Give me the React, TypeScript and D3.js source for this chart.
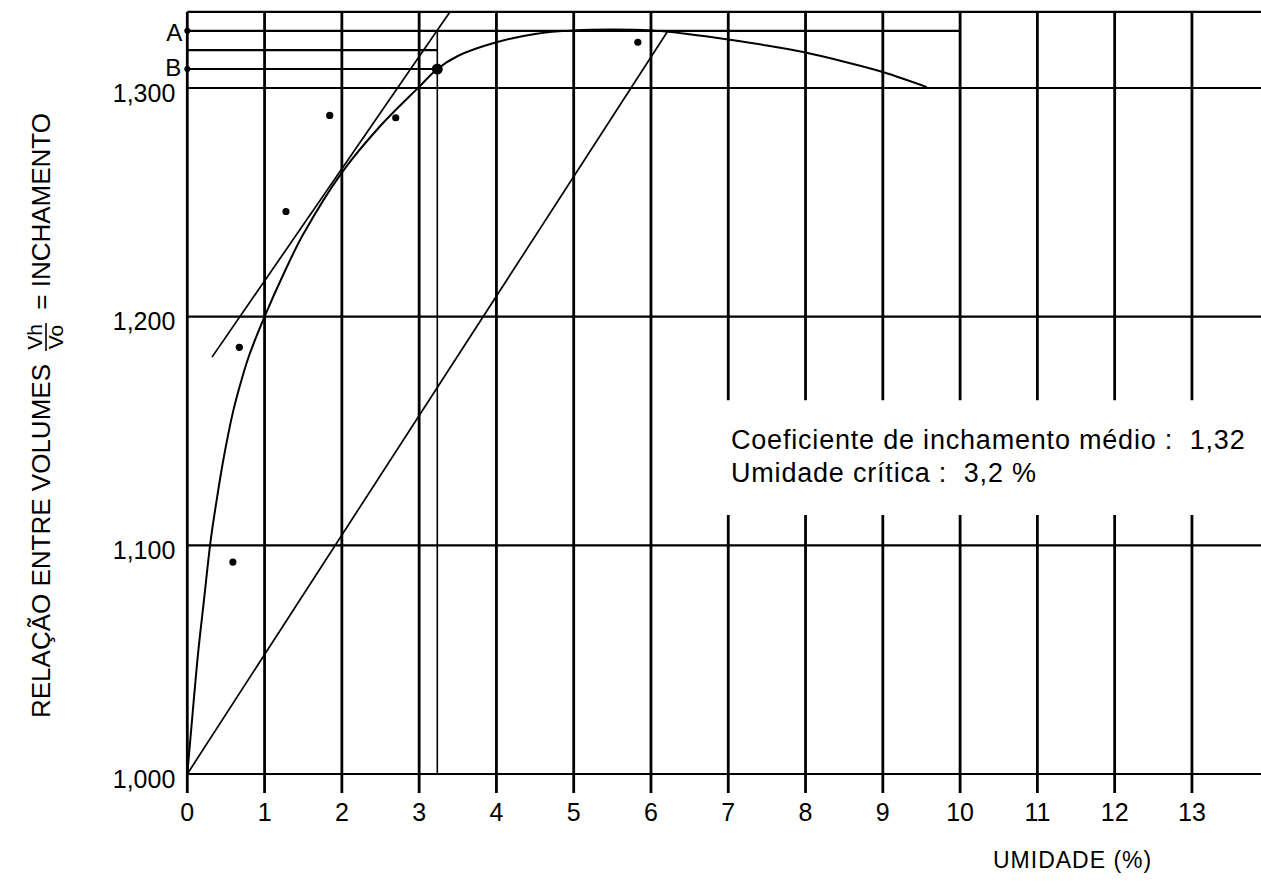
import React from "react";
import * as d3 from "d3";

// ---------- data ----------
const xTicks = [0, 1, 2, 3, 4, 5, 6, 7, 8, 9, 10, 11, 12, 13];
const yTicks = [1.0, 1.1, 1.2, 1.3];
const yTickLabels = ["1,000", "1,100", "1,200", "1,300"];

const pointsX = [0.59, 0.673, 1.277, 1.843, 2.697, 5.83];
const pointsY = [1.0927, 1.1866, 1.246, 1.288, 1.287, 1.32];

const curveX = [0, 0.07, 0.14, 0.216, 0.303, 0.38, 0.466, 0.587, 0.682, 0.8, 1.0, 1.25, 1.5, 2.0, 2.5, 3.0, 3.235, 3.5, 4.0, 4.5, 5.0, 5.5, 6.0, 6.5, 7.0, 7.5, 8.0, 8.5, 9.0, 9.57];
const curveY = [1.0, 1.027, 1.053, 1.0761, 1.1023, 1.1198, 1.1373, 1.1577, 1.17, 1.183, 1.2, 1.219, 1.236, 1.263, 1.2835, 1.3005, 1.3083, 1.314, 1.32, 1.3236, 1.3252, 1.3256, 1.3252, 1.3235, 1.3212, 1.3186, 1.3155, 1.3115, 1.307, 1.3004];

const levelA = 1.325;
const levelMid = 1.3166;
const levelB = 1.3083;
const umidadeCritica = 3.235;
const lineAEnd = 10;

const chordX = [0, 6.22];
const chordY = [1.0, 1.325];
const tangentX = [0.32, 3.4];
const tangentY = [1.1823, 1.3333];

const xMax = 13.9;
const yMin = 1.0;
const yMax = 1.3333;
const gridGapFrom = 7; // vertical lines from this value have a gap around the note
const gridGap = [1.1133, 1.1635];

const noteLines = ["Coeficiente de inchamento médio :  1,32", "Umidade crítica :  3,2 %"];

// ---------- component ----------
const W = 1261;
const H = 885;
const FONT = "'Liberation Sans', Arial, Helvetica, sans-serif";

export default function App() {
  const x = d3.scaleLinear().domain([0, xMax]).range([187.3, 187.3 + xMax * 77.28]);
  const y = d3.scaleLinear().domain([1.0, 1.3]).range([774, 88]);

  const line = d3
    .line<number>()
    .x((_, i) => x(curveX[i]))
    .y((d) => y(d))
    .curve(d3.curveCatmullRom.alpha(0.5));
  const curvePath = line(curveY) || "";

  const tickLen = 19;
  const gridW = 2.8;
  const hW = 2.2;

  return (
    <svg
      width={W}
      height={H}
      style={{ position: "absolute", left: 0, top: 0, background: "#fff" }}
      fontFamily={FONT}
    >
      <rect x={0} y={0} width={W} height={H} fill="#fff" />

      {/* horizontal grid lines */}
      {[...yTicks, yMax].map((v, i) => (
        <line key={"h" + i} x1={x(0)} x2={x(xMax)} y1={y(v)} y2={y(v)} stroke="#000" strokeWidth={hW} />
      ))}

      {/* vertical grid lines */}
      {xTicks.map((t) =>
        t >= gridGapFrom ? (
          <g key={"v" + t}>
            <line x1={x(t)} x2={x(t)} y1={y(yMax)} y2={y(gridGap[1])} stroke="#000" strokeWidth={gridW} />
            <line x1={x(t)} x2={x(t)} y1={y(gridGap[0])} y2={y(yMin) + tickLen} stroke="#000" strokeWidth={gridW} />
          </g>
        ) : (
          <line key={"v" + t} x1={x(t)} x2={x(t)} y1={y(yMax)} y2={y(yMin) + tickLen} stroke="#000" strokeWidth={gridW} />
        )
      )}

      {/* A, mid, B construction lines */}
      <line x1={x(0)} x2={x(lineAEnd)} y1={y(levelA)} y2={y(levelA)} stroke="#000" strokeWidth={hW} />
      <line x1={x(0)} x2={x(umidadeCritica)} y1={y(levelMid)} y2={y(levelMid)} stroke="#000" strokeWidth={hW} />
      <line x1={x(0)} x2={x(umidadeCritica)} y1={y(levelB)} y2={y(levelB)} stroke="#000" strokeWidth={hW} />
      <line x1={x(umidadeCritica)} x2={x(umidadeCritica)} y1={y(levelA)} y2={y(yMin)} stroke="#000" strokeWidth={1.6} />

      {/* chord and tangent */}
      <line x1={x(chordX[0])} y1={y(chordY[0])} x2={x(chordX[1])} y2={y(chordY[1])} stroke="#000" strokeWidth={1.7} />
      <line x1={x(tangentX[0])} y1={y(tangentY[0])} x2={x(tangentX[1])} y2={y(tangentY[1])} stroke="#000" strokeWidth={1.7} />

      {/* curve */}
      <path d={curvePath} fill="none" stroke="#000" strokeWidth={2} />

      {/* points */}
      {pointsY.map((v, i) => (
        <circle key={"p" + i} cx={x(pointsX[i])} cy={y(v)} r={3.6} fill="#000" />
      ))}
      <circle cx={x(umidadeCritica)} cy={y(levelB)} r={5.5} fill="#000" />
      <circle cx={x(0)} cy={y(levelA)} r={3} fill="#000" />
      <circle cx={x(0)} cy={y(levelB)} r={3} fill="#000" />

      {/* A / B labels */}
      <text x={x(0) - 5} y={y(levelA) + 10} fontSize={24} textAnchor="end">A</text>
      <text x={x(0) - 6} y={y(levelB) + 7} fontSize={24} textAnchor="end">B</text>

      {/* y tick labels */}
      {yTicks.map((v, i) => (
        <text key={"yl" + i} x={x(0) - 12} y={y(v) + 13.5} fontSize={25} textAnchor="end">
          {yTickLabels[i]}
        </text>
      ))}

      {/* x tick labels */}
      {xTicks.map((t) => (
        <text key={"xl" + t} x={x(t)} y={y(yMin) + 47} fontSize={25} textAnchor="middle">
          {t}
        </text>
      ))}

      {/* x axis title */}
      <text x={993} y={868} fontSize={23} letterSpacing={1} style={{ whiteSpace: "pre" }}>
        UMIDADE (%)
      </text>

      {/* note */}
      {noteLines.map((s, i) => (
        <text key={"n" + i} x={731} y={449 + i * 33} fontSize={27} letterSpacing={0.8} style={{ whiteSpace: "pre" }}>
          {s}
        </text>
      ))}

      {/* y axis title */}
      <g transform="translate(50,718) rotate(-90)">
        <text x={0} y={0} fontSize={26} textAnchor="start">RELAÇÃO ENTRE VOLUMES</text>
      </g>
      <g transform="translate(47,337) rotate(-90)">
        <text x={0} y={-5} fontSize={21} textAnchor="middle">Vh</text>
        <line x1={-14} x2={14} y1={-1} y2={-1} stroke="#000" strokeWidth={1.6} />
        <text x={0} y={16} fontSize={21} textAnchor="middle">Vo</text>
      </g>
      <g transform="translate(50,113) rotate(-90)">
        <text x={0} y={0} fontSize={26} textAnchor="end" style={{ whiteSpace: "pre" }}>= INCHAMENTO</text>
      </g>
    </svg>
  );
}
